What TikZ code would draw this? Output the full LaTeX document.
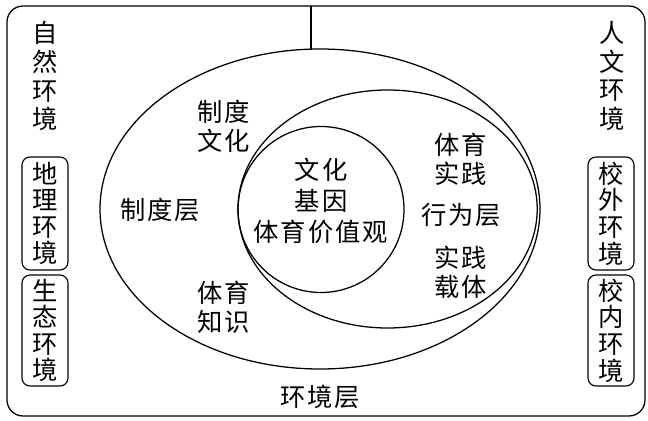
\documentclass[tikz,border=0pt]{standalone}
\usepackage{fontspec}
\setmainfont{Noto Sans CJK SC}[LetterSpace=8]
\begin{document}
\begin{tikzpicture}[line join=round, line cap=round, line width=0.9pt,
    cjk/.style={align=center, inner sep=0pt, font=\fontsize{18pt}{0.72cm}\selectfont},
    envbox/.style={draw, rounded corners=0.2cm, line width=0.8pt, minimum width=1.15cm,
        align=center, inner sep=0pt, font=\fontsize{18pt}{0.665cm}\selectfont}]
    \useasboundingbox (0,0) rectangle (16.2,10.5);
    % frame and layers
    \draw[rounded corners=0.4cm] (0.175,0.1) rectangle (16.125,10.35);
    \coordinate (T) at (7.775,10.35);
    \coordinate (E) at (7.775,9.27);
    \draw (T) -- (E);
    \draw (8.0,5.275) ellipse [x radius=5.5, y radius=4];
    \draw (9.69,5.275) ellipse [x radius=3.74, y radius=2.975];
    \draw (8.025,5.2625) circle (2.075);
    % side texts
    \node[cjk] (ziran) at (1.125,8.6) {自\\然\\环\\境};
    \node[cjk] (renwen) at (15.3,8.6) {人\\文\\环\\境};
    \node[envbox, minimum height=2.825cm] (dili) at (1.125,5.1625) {地\\理\\环\\境};
    \node[envbox, minimum height=2.775cm] (shengtai) at (1.125,2.2375) {生\\态\\环\\境};
    \node[envbox, minimum height=2.825cm] (xiaowai) at (15.275,5.1625) {校\\外\\环\\境};
    \node[envbox, minimum height=2.775cm] (xiaonei) at (15.275,2.2375) {校\\内\\环\\境};
    % layer texts
    \node[cjk] (zdwh) at (5.6,7.35) {制度\\文化};
    \node[cjk] (zdc) at (4.0,5.25) {制度层};
    \node[cjk, font=\fontsize{18pt}{0.775cm}\selectfont] (jiyin) at (8.025,5.475) {文化\\基因\\体育价值观};
    \node[cjk] (tysj) at (11.525,6.525) {体育\\实践};
    \node[cjk] (xwc) at (11.525,5.125) {行为层};
    \node[cjk] (sjzt) at (11.525,3.7) {实践\\载体};
    \node[cjk] (tyzs) at (5.6,2.825) {体育\\知识};
    \node[cjk] (hjc) at (8.0,0.575) {环境层};
\end{tikzpicture}
\end{document}
